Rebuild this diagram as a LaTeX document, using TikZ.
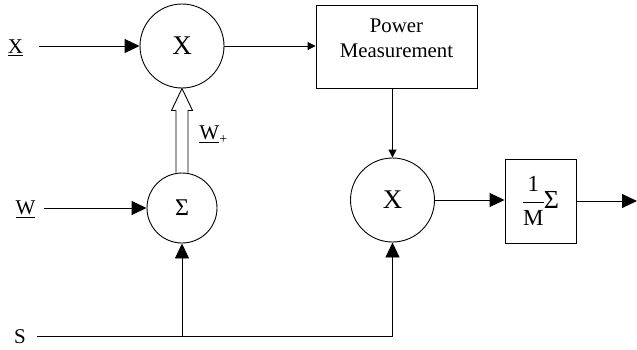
\documentclass[tikz,border=0pt]{standalone}
\usepackage{amsmath}
\usepackage{fontspec}
\setmainfont{Liberation Serif}
\usetikzlibrary{arrows.meta,calc}

\begin{document}
\begin{tikzpicture}[x=1pt, y=-1pt, line width=0.9pt,
  big/.style={-{Triangle[length=15pt,width=14pt]}},
  small/.style={-{Triangle[length=8pt,width=8pt]}},
  mult/.style={draw, circle, minimum size=84pt, inner sep=0pt, font=\fontsize{27}{30}\selectfont},
  lbl/.style={inner sep=0pt, font=\fontsize{21}{24}\selectfont}]
\useasboundingbox (0,0) rectangle (637,349);

% Blocks
\node[mult] (mulA) at (182,46) {X};
\node[mult] (mulB) at (392.5,200) {X};
\node[draw, circle, minimum size=70pt, inner sep=0pt, font=\fontsize{24}{26}\selectfont] (sig) at (182,208) {Σ};
\node[draw, minimum width=161pt, minimum height=83pt, inner sep=0pt, align=center, text depth=16pt,
  font=\fontsize{20.8}{25}\selectfont] (pm) at (396.5,46.5) {Power\\Measurement};
\node[draw, minimum width=71pt, minimum height=84pt, inner sep=0pt, font=\fontsize{23}{26}\selectfont]
  (avg) at (540.5,201) {$\dfrac{\text{1}}{\text{M}}$\kern-1pt{\fontsize{26}{28}\selectfont Σ}};
\coordinate (out) at (637,201);

% Inputs
\node[lbl, anchor=base] (labX) at (15.5,53) {\underline{X}};
\node[lbl, anchor=base] (labW) at (25.5,214) {\underline{W}};
\node[lbl, anchor=base] (labS) at (20,343) {S};
\node[lbl, anchor=base west] (labWp) at (199,139) {\underline{W}\raisebox{-4pt}{\fontsize{14}{15}\selectfont +}};

% Signal path
\draw[big] ($(labX.east |- mulA)+(15,0)$) -- (mulA);
\draw[small] (mulA.east) -- (mulA.east -| pm.west);
\draw[small] (pm.south -| mulB) -- (mulB);
\draw[big] (mulB.east) -- (mulB.east -| avg.west);
\draw[big] (avg.east) -- (out);
\draw[big] ($(labW.east |- sig)+(8,0)$) -- (sig);

% S feeds both
\draw[big] ($(labS.east)+(11,0)$) -| (mulB);
\draw[big] (sig |- labS) -- (sig);

% Hollow arrow (updated weights)
\draw ($(sig.north)+(-6,0)$) -- ($(mulA.south)+(-6,22)$) -- ($(mulA.south)+(-10.5,22)$)
  -- (mulA.south) -- ($(mulA.south)+(10.5,22)$) -- ($(mulA.south)+(6,22)$) -- ($(sig.north)+(6,0)$);

\end{tikzpicture}
\end{document}
